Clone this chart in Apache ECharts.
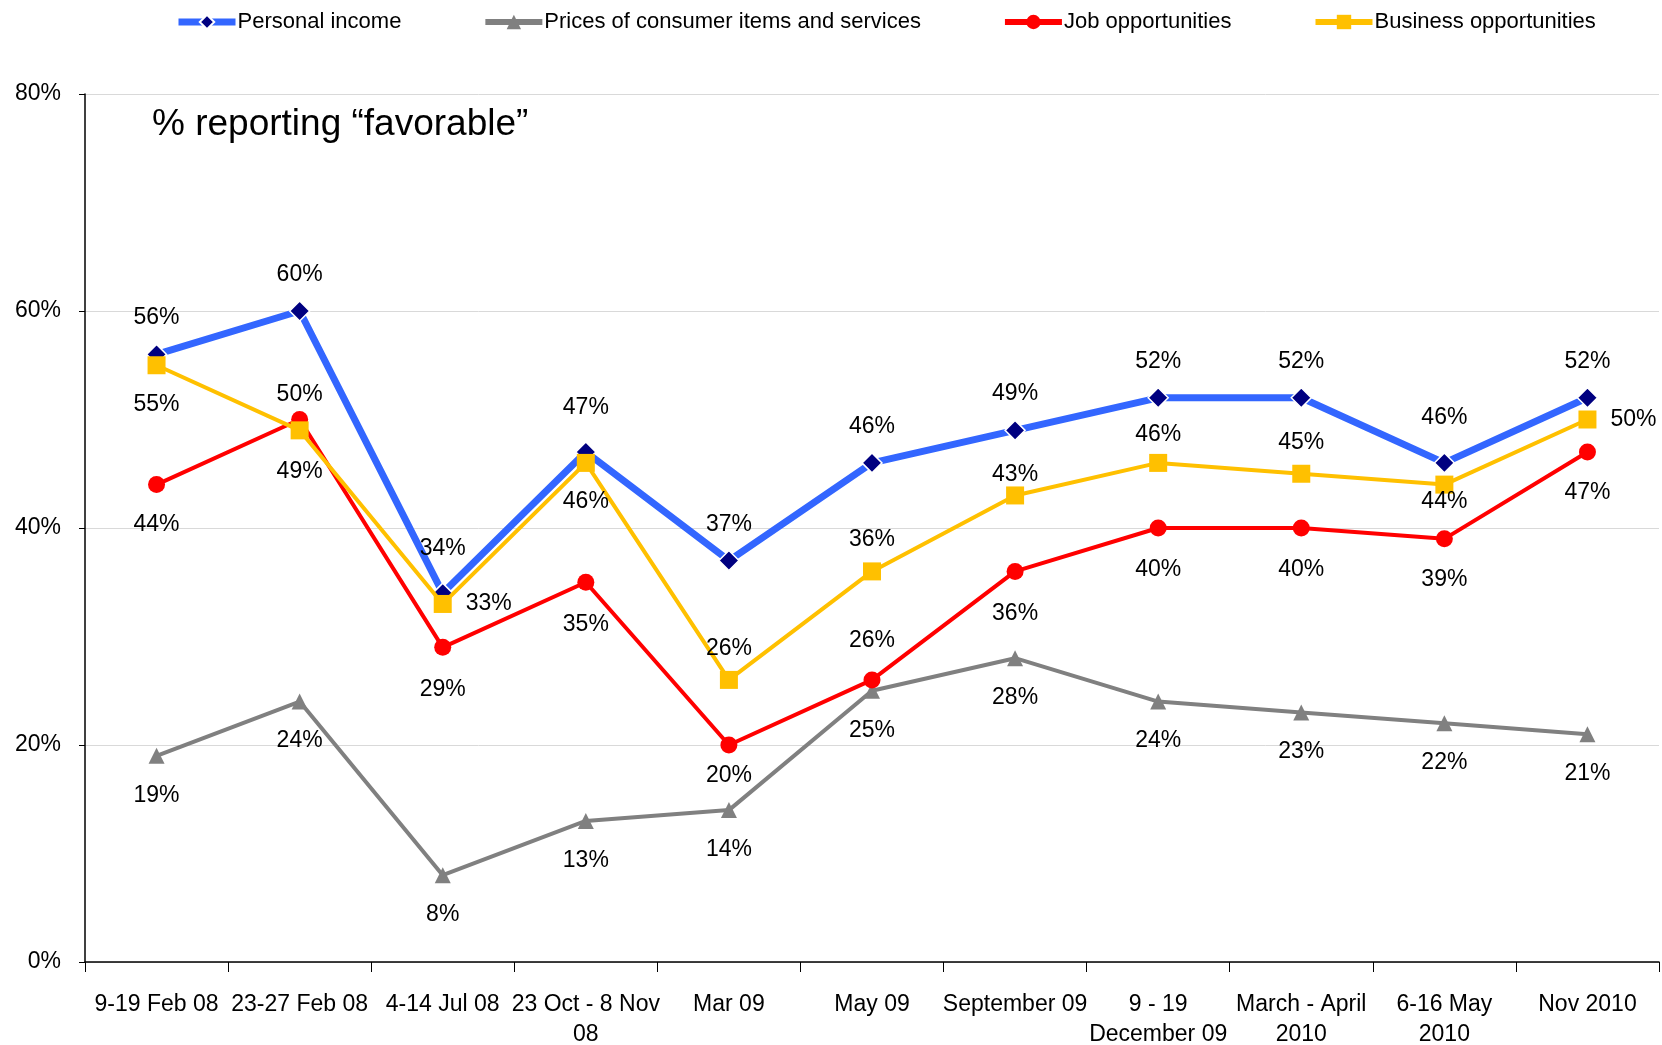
<!DOCTYPE html>
<html><head><meta charset="utf-8">
<script src="https://cdn.jsdelivr.net/npm/echarts@6/dist/echarts.min.js"></script>
<style>html,body{margin:0;padding:0;background:#fff}#c{width:1662px;height:1045px}</style>
</head><body><div id="c"></div>
<script>
const categories = ['9-19 Feb 08','23-27 Feb 08','4-14 Jul 08','23 Oct - 8 Nov\n08','Mar 09','May 09','September 09','9 - 19\nDecember 09','March - April\n2010','6-16 May\n2010','Nov 2010'];
const personalIncome = [56,60,34,47,37,46,49,52,52,46,52];
const prices = [19,24,8,13,14,25,28,24,23,22,21];
const jobOpps = [44,50,29,35,20,26,36,40,40,39,47];
const businessOpps = [55,49,33,46,26,36,43,46,45,44,50];
const yTicks = [0,20,40,60,80];

// label placement per point
const incomeLabelPos = ['top','top','top','top','top','top','top','top','top','top','top'];
const incomeLabelDist = [14,14,22,22,14,14,14,14,14,23,14];
const pricesLabelPos = ['bottom','bottom','bottom','bottom','bottom','bottom','bottom','bottom','bottom','bottom','bottom'];
const pricesLabelDist = [20,20,20,20,20,20,20,20,20,20,20];
const jobLabelPos = ['bottom','top','bottom','bottom','bottom','top','bottom','bottom','bottom','bottom','bottom'];
const jobLabelDist = [20,5,22,22,11,19,22,22,22,21,21];
const bizLabelPos = ['bottom','bottom','right','bottom','top','top','top','top','top','bottom','right'];
const bizLabelDist = [19,21,14,18,11,11,0,8,11,-3,14];

const FONT = '"Liberation Sans",Arial,sans-serif';
const lblBase = {show:true, color:'#000', fontSize:23, fontFamily:FONT, formatter: p => p.value + '%'};

function mkData(vals, posArr, distArr){
  return vals.map((v,i)=>({value:v, label:{position: posArr[i], distance: distArr[i]}}));
}

const chart = echarts.init(document.getElementById('c'), null, {renderer:'canvas'});
chart.setOption({
  animation:false,
  backgroundColor:'#fff',
  legend:{
    top:11, left:175, padding:0, itemGap:81, itemWidth:57, itemHeight:18,
    textStyle:{fontSize:22, fontFamily:FONT, color:'#000', padding:[0,0,0,-3]},
    data:[
      {name:'Personal income', lineStyle:{width:7}},
      {name:'Prices of consumer items and services', lineStyle:{width:6}},
      {name:'Job opportunities', lineStyle:{width:6}},
      {name:'Business opportunities', lineStyle:{width:6}}
    ]
  },
  graphic:[{type:'text', left:152, top:106, style:{text:'% reporting \u201cfavorable\u201d', fontSize:37, fontFamily:FONT, fill:'#000'}}],
  grid:{left:85, right:3, top:94, bottom:83, containLabel:false, outerBoundsMode:'none'},
  xAxis:{
    type:'category', data:categories, boundaryGap:true,
    axisLine:{lineStyle:{color:'#000', width:1.5}},
    axisTick:{show:true, length:10, lineStyle:{color:'#000'}},
    axisLabel:{interval:0, color:'#000', fontSize:23, fontFamily:FONT, margin:28, lineHeight:30}
  },
  yAxis:{
    type:'value', min:0, max:80, interval:20,
    axisLine:{show:true, lineStyle:{color:'#000', width:1.5}},
    axisTick:{show:true, length:6, lineStyle:{color:'#000'}},
    splitLine:{lineStyle:{color:'#d9d9d9', width:1}},
    axisLabel:{color:'#000', fontSize:23, fontFamily:FONT, margin:24, formatter: v => v + '%'}
  },
  series:[
    {name:'Personal income', type:'line', data:mkData(personalIncome, incomeLabelPos, incomeLabelDist),
     lineStyle:{color:'#3366ff', width:7}, itemStyle:{color:'#000080', borderColor:'#fff', borderWidth:1.5},
     symbol:'diamond', symbolSize:20, z:2, label:lblBase},
    {name:'Prices of consumer items and services', type:'line', data:mkData(prices, pricesLabelPos, pricesLabelDist),
     lineStyle:{color:'#808080', width:4}, itemStyle:{color:'#808080'},
     symbol:'triangle', symbolSize:16, z:3, label:lblBase},
    {name:'Job opportunities', type:'line', data:mkData(jobOpps, jobLabelPos, jobLabelDist),
     lineStyle:{color:'#ff0000', width:4}, itemStyle:{color:'#ff0000'},
     symbol:'circle', symbolSize:17, z:4, label:lblBase},
    {name:'Business opportunities', type:'line', data:mkData(businessOpps, bizLabelPos, bizLabelDist),
     lineStyle:{color:'#ffc000', width:4}, itemStyle:{color:'#ffc000'},
     symbol:'rect', symbolSize:18, z:5, label:lblBase}
  ]
});
</script></body></html>
